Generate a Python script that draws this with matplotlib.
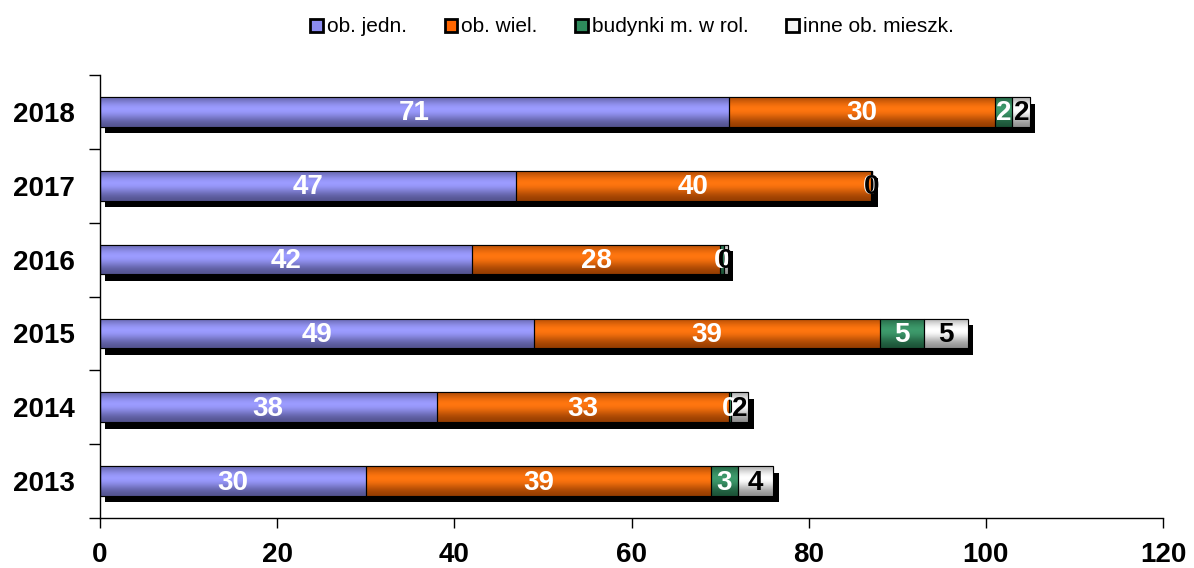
import numpy as np
import matplotlib
matplotlib.use("Agg")
import matplotlib.pyplot as plt
from matplotlib.patches import Patch
from matplotlib.colors import to_rgb

plt.rcParams['font.family'] = ['Liberation Sans', 'DejaVu Sans']

years = ['2013', '2014', '2015', '2016', '2017', '2018']
series_names = ['ob. jedn.', 'ob. wiel.', 'budynki m. w rol.', 'inne ob. mieszk.']
ob_jedn = [30, 38, 49, 42, 47, 71]
ob_wiel = [39, 33, 39, 28, 40, 30]
budynki_rol = [3, 0.2, 5, 0.45, 0.1, 2]
inne = [4, 2, 5, 0.45, 0.1, 2]
series = [ob_jedn, ob_wiel, budynki_rol, inne]
colors = ['#8c8cf2', '#ff6600', '#2e8b5c', '#f4f4f4']
text_colors = ['white', 'white', 'white', 'black']

fig = plt.figure(figsize=(11.94, 5.68), dpi=100)
ax = fig.add_axes([100/1194, 1 - 518/568, 1063/1194, (518 - 75)/568])

y = np.arange(len(years))
h = 0.40
totals = np.sum(np.array(series), axis=0)

# shadows
dx, dy = 0.6, -0.09
ax.barh(y + dy, totals, left=dx, height=h, color='black', zorder=1)

left = np.zeros(len(years))
for vals, col, tc in zip(series, colors, text_colors):
    bars = ax.barh(y, vals, left=left, height=h, color=col, edgecolor='black',
                   linewidth=0.8, zorder=2)
    base = np.array(to_rgb(col))
    t = np.linspace(0, 1, 64)
    prof = np.exp(-((t - 0.6) / 0.38) ** 2)
    dark = base * 0.55
    light = np.clip(base * 1.0 + 0.06, 0, 1)
    grad = dark[None, :] * (1 - prof[:, None]) + light[None, :] * prof[:, None]
    grad = grad[:, None, :]
    for b in bars:
        x0, y0 = b.get_x(), b.get_y()
        w, hh = b.get_width(), b.get_height()
        if w <= 0:
            continue
        im = ax.imshow(grad, extent=[x0, x0 + w, y0, y0 + hh], origin='lower',
                       aspect='auto', zorder=2.5, interpolation='bilinear')
        im.set_clip_path(b)
        ax.add_patch(plt.Rectangle((x0, y0), w, hh, fill=False, edgecolor='black',
                                   linewidth=0.8, zorder=2.6))
    for yi, v, l in zip(y, vals, left):
        ax.text(l + v / 2, yi - 0.02, f"{v:.0f}", ha='center', va='center', color=tc,
                fontsize=20, fontweight='bold', zorder=4)
    left = left + np.array(vals)

ax.set_xlim(0, 120)
ax.set_ylim(-0.5, 5.5)
ax.set_xticks(np.arange(0, 121, 20))
ax.set_yticks(y)
ax.set_yticklabels(years, fontsize=20, fontweight='bold')
ax.set_yticks(np.arange(-0.5, 6, 1), minor=True)
ax.tick_params(axis='y', which='major', length=0, pad=18)
ax.tick_params(axis='y', which='minor', length=8, width=1, direction='out')
ax.tick_params(axis='x', which='major', length=7, width=1, direction='out',
               labelsize=20, pad=10)
for lab in ax.get_xticklabels():
    lab.set_fontweight('bold')
ax.spines['top'].set_visible(False)
ax.spines['right'].set_visible(False)
ax.spines['left'].set_linewidth(1)
ax.spines['bottom'].set_linewidth(1)
ax.set_aspect('auto')

handles = [Patch(facecolor=c, edgecolor='black', linewidth=2) for c in colors]
fig.legend(handles, series_names, loc='center', bbox_to_anchor=(632/1194, 1 - 27/568),
           ncol=4, frameon=False, fontsize=15, handlelength=0.6, handleheight=0.6,
           handletextpad=0.2, columnspacing=1.8)

fig.savefig('out.png', dpi=100)
